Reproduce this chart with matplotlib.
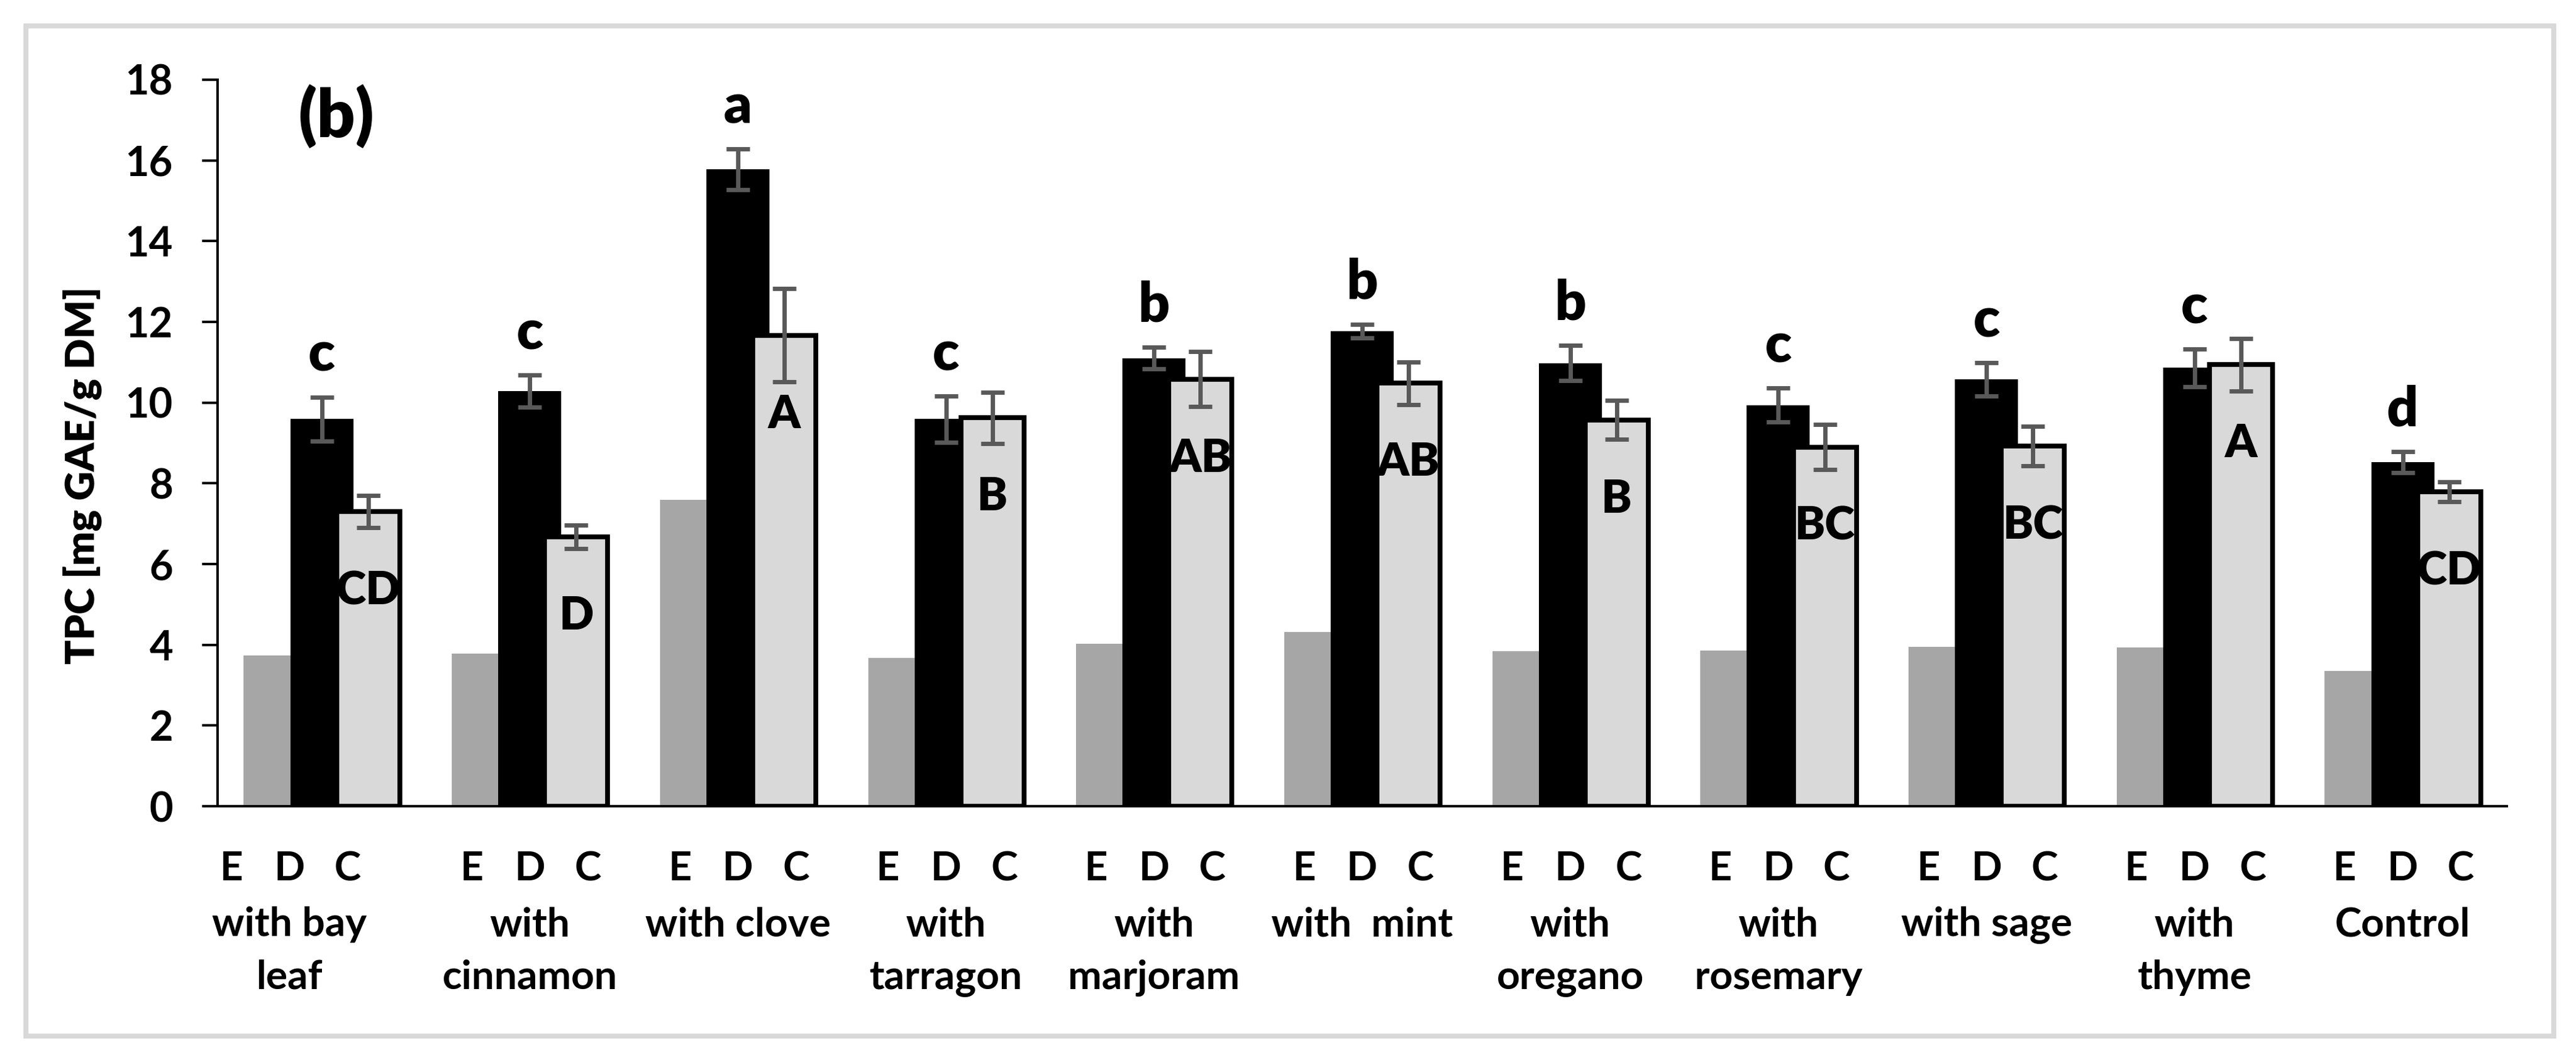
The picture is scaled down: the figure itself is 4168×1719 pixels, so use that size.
import numpy as np
import matplotlib.pyplot as plt
import matplotlib.transforms as mtransforms
from matplotlib.patches import Rectangle

# 字体：用 Lato 粗体替代 Calibri
plt.rcParams['font.family'] = ['Lato', 'DejaVu Sans']
plt.rcParams['font.weight'] = 'bold'
plt.rcParams['axes.labelweight'] = 'bold'

# 数据
categories = ['with bay\nleaf', 'with\ncinnamon', 'with clove', 'with\ntarragon',
              'with\nmarjoram', 'with  mint', 'with\noregano', 'with\nrosemary',
              'with sage', 'with\nthyme', 'Control']
sub_labels = ['E', 'D', 'C']
E_vals = [3.73, 3.78, 7.59, 3.68, 4.03, 4.31, 3.84, 3.86, 3.95, 3.93, 3.35]
D_vals = [9.59, 10.28, 15.78, 9.59, 11.10, 11.77, 10.98, 9.94, 10.58, 10.86, 8.52]
D_err = [0.55, 0.40, 0.50, 0.57, 0.27, 0.17, 0.44, 0.42, 0.41, 0.46, 0.26]
C_vals = [7.30, 6.68, 11.67, 9.62, 10.58, 10.48, 9.57, 8.90, 8.92, 10.94, 7.79]
C_err = [0.40, 0.29, 1.16, 0.64, 0.68, 0.53, 0.48, 0.56, 0.49, 0.65, 0.25]
lower_letters = ['c', 'c', 'a', 'c', 'b', 'b', 'b', 'c', 'c', 'c', 'd']
upper_letters = ['CD', 'D', 'A', 'B', 'AB', 'AB', 'B', 'BC', 'BC', 'A', 'CD']
y_ticks = [0, 2, 4, 6, 8, 10, 12, 14, 16, 18]

fig = plt.figure(figsize=(20.84, 8.595), dpi=200)
ax = fig.add_axes([0.0845, 0.2408, 0.8886, 0.6842])

x = np.arange(len(categories))
w = 0.303
step = 0.223

ax.bar(x - step, E_vals, w, color='#A6A6A6', zorder=2)
ax.bar(x, D_vals, w, color='black', zorder=3)
ax.bar(x + step, C_vals, w, color='#D9D9D9', edgecolor='black', linewidth=2.8, zorder=4)
ax.errorbar(x, D_vals, yerr=D_err, fmt='none', ecolor='#595959',
            elinewidth=2.5, capsize=7, capthick=2.5, zorder=5)
ax.errorbar(x + step, C_vals, yerr=C_err, fmt='none', ecolor='#595959',
            elinewidth=2.5, capsize=7, capthick=2.5, zorder=5)

# 显著性字母
for i in range(len(x)):
    ax.annotate(lower_letters[i], (x[i], D_vals[i] + D_err[i]), xytext=(0, 15),
                textcoords='offset points', ha='center', va='baseline',
                fontsize=32, fontweight='heavy', zorder=6)
    ax.annotate(upper_letters[i], (x[i] + step, C_vals[i]), xytext=(0, -54),
                textcoords='offset points', ha='center', va='baseline',
                fontsize=26.5, fontweight='heavy', zorder=6)

ax.set_xlim(-0.5, len(x) - 0.5)
ax.set_ylim(0, 18)
ax.set_yticks(y_ticks)
ax.set_xticks([])
for s in ['top', 'right']:
    ax.spines[s].set_visible(False)
for s in ['left', 'bottom']:
    ax.spines[s].set_linewidth(1.44)
    ax.spines[s].set_color('black')
ax.tick_params(axis='y', length=9, width=1.44, pad=17, labelsize=24)

# x 轴标签（第一组整体左移一点）
trans = mtransforms.blended_transform_factory(ax.transData, ax.transAxes)
for i in range(len(x)):
    shift = -0.155 if i == 0 else 0.0
    for j, s in enumerate(sub_labels):
        ax.text(x[i] + shift + (j - 1) * 0.279, -0.102, s, transform=trans,
                ha='center', va='baseline', fontsize=23.5)
    ax.text(x[i] + shift, -0.138, categories[i], transform=trans,
            ha='center', va='top', fontsize=23.5, linespacing=1.55)

ax.set_ylabel('TPC [mg GAE/g DM]', fontsize=23.5, fontweight='heavy')
ax.yaxis.set_label_coords(-0.0505, 0.455)

ax.text(0.052, 0.95, '(b)', transform=ax.transAxes, ha='center', va='center',
        fontsize=39, fontweight='heavy')

# 外框
fig.patches.append(Rectangle((42 / 4168, 42 / 1719), 4090 / 4168, 1635 / 1719,
                             transform=fig.transFigure, fill=False,
                             edgecolor='#D9D9D9', linewidth=2.9))

fig.savefig('out.png', dpi=200)
